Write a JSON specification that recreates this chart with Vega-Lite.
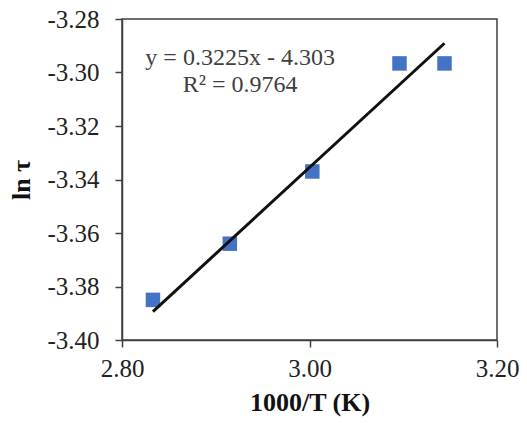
{
  "$schema": "https://vega.github.io/schema/vega-lite/v6.json",
  "width": 375,
  "height": 321,
  "autosize": {"type": "none"},
  "padding": {"left": 122, "top": 19, "right": 30, "bottom": 83},
  "background": "white",
  "config": {
    "font": "Liberation Serif",
    "view": {"stroke": "#404040", "strokeWidth": 1.5},
    "axis": {
      "grid": false,
      "labelFlush": false,
      "labelOverlap": false,
      "domainColor": "#404040",
      "domainWidth": 1.5,
      "tickColor": "#404040",
      "tickWidth": 1.5,
      "tickSize": 7,
      "labelFont": "Liberation Serif",
      "labelFontSize": 25,
      "labelColor": "#222222",
      "titleFont": "Liberation Serif",
      "titleFontSize": 26,
      "titleFontWeight": "bold",
      "titleColor": "#111111"
    }
  },
  "layer": [
    {
      "data": {
        "values": [
          {"inv_T": 2.833, "ln_tau": -3.385},
          {"inv_T": 2.915, "ln_tau": -3.364},
          {"inv_T": 3.003, "ln_tau": -3.337},
          {"inv_T": 3.096, "ln_tau": -3.2966},
          {"inv_T": 3.144, "ln_tau": -3.2966}
        ]
      },
      "mark": {"type": "point", "shape": "square", "filled": true, "size": 210, "color": "#4472C4", "opacity": 1},
      "encoding": {
        "x": {
          "field": "inv_T",
          "type": "quantitative",
          "scale": {"domain": [2.8, 3.2], "nice": false, "zero": false},
          "axis": {
            "values": [2.8, 3.0, 3.2],
            "format": ".2f",
            "labelPadding": 9,
            "title": "1000/T (K)",
            "titlePadding": 8
          }
        },
        "y": {
          "field": "ln_tau",
          "type": "quantitative",
          "scale": {"domain": [-3.4, -3.28], "nice": false, "zero": false},
          "axis": {
            "values": [-3.4, -3.38, -3.36, -3.34, -3.32, -3.3, -3.28],
            "labelExpr": "datum.value < 0 ? '-' + format(-datum.value, '.2f') : format(datum.value, '.2f')",
            "labelPadding": 16,
            "title": "ln τ",
            "titlePadding": 12
          }
        }
      }
    },
    {
      "data": {
        "values": [
          {"inv_T": 2.833, "ln_tau": -3.38936},
          {"inv_T": 3.144, "ln_tau": -3.28906}
        ]
      },
      "mark": {"type": "line", "color": "#111111", "strokeWidth": 3},
      "encoding": {
        "x": {"field": "inv_T", "type": "quantitative"},
        "y": {"field": "ln_tau", "type": "quantitative"}
      }
    },
    {
      "data": {"values": [{}]},
      "mark": {
        "type": "text",
        "text": ["y = 0.3225x - 4.303", "R² = 0.9764"],
        "font": "Liberation Serif",
        "fontSize": 24,
        "lineHeight": 27,
        "align": "center",
        "baseline": "middle",
        "color": "#404040"
      },
      "encoding": {
        "x": {"datum": 2.926},
        "y": {"datum": -3.2946}
      }
    }
  ]
}
